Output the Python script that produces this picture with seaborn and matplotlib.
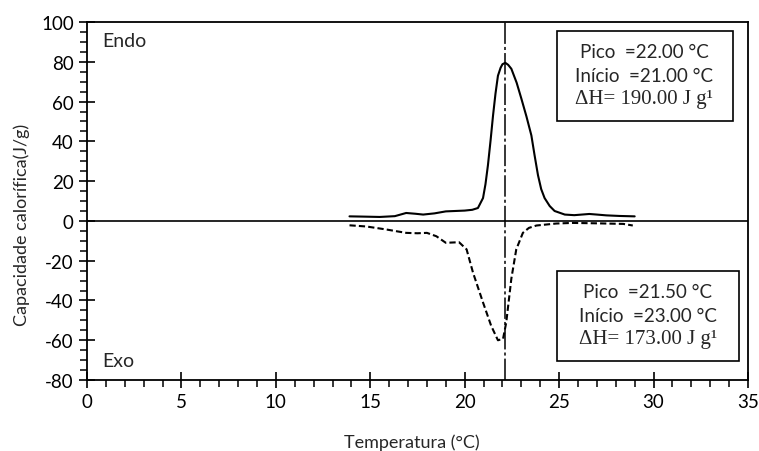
import matplotlib
matplotlib.use("Agg")
import matplotlib.pyplot as plt
from matplotlib.patches import Rectangle
from matplotlib.ticker import MultipleLocator
import pandas as pd
import seaborn as sns

# heating curve (endothermic, solid line)
endo_temp = [13.9, 14.5, 15.5, 16.3, 16.9, 17.4, 17.8, 18.4, 19.0, 19.5, 20.0, 20.4, 20.7,
             20.97, 21.1, 21.23, 21.37, 21.5, 21.63, 21.76, 21.9, 22.0, 22.15, 22.3, 22.47,
             22.75, 23.0, 23.27, 23.53, 23.7, 23.88, 24.05, 24.23, 24.5, 24.76, 25.3,
             25.8, 26.6, 27.0, 27.5, 28.2, 29.0]
endo_cp = [2.3, 2.2, 2.0, 2.4, 4.0, 3.6, 3.2, 3.8, 4.8, 5.0, 5.2, 5.6, 6.5,
           11.5, 18.5, 28.0, 40.5, 53.0, 64.0, 73.0, 77.0, 78.8, 79.5, 78.5, 76.5,
           69.5, 61.5, 52.5, 43.0, 33.0, 23.0, 16.0, 11.5, 7.5, 5.0, 3.2,
           2.9, 3.5, 3.2, 2.8, 2.5, 2.3]

# cooling curve (exothermic, dashed line)
exo_temp = [13.9, 14.8, 15.85, 16.4, 16.9, 17.5, 18.0, 18.5, 19.0, 19.7, 20.1, 20.44,
            20.97, 21.4, 21.76, 22.03, 22.2, 22.47, 22.73, 23.08, 23.4, 23.8, 24.85,
            25.7, 27.0, 28.4, 28.9]
exo_cp = [-2.2, -2.8, -4.3, -5.2, -6.0, -6.2, -6.0, -7.7, -11.0, -10.7, -14.3, -26.0,
          -41.0, -52.7, -60.0, -59.3, -51.0, -29.0, -14.3, -6.0, -3.5, -2.3, -1.3,
          -1.0, -1.2, -1.5, -2.3]

peak_line_x = 22.15

endo_text = ["Pico  =22.00 °C", "Início  =21.00 °C", "ΔH= 190.00 J g¹"]
exo_text = ["Pico  =21.50 °C", "Início  =23.00 °C", "ΔH= 173.00 J g¹"]

df_endo = pd.DataFrame({"T": endo_temp, "Cp": endo_cp})
df_exo = pd.DataFrame({"T": exo_temp, "Cp": exo_cp})

sns.set_theme(style="ticks")
plt.rcParams["font.family"] = ["Lato", "DejaVu Sans"]
plt.rcParams["axes.unicode_minus"] = False

fig = plt.figure(figsize=(7.59, 4.52), dpi=100)
ax = fig.add_axes([0.1146, 0.157, 0.8709, 0.792])

sns.lineplot(data=df_endo, x="T", y="Cp", ax=ax, color="black", lw=1.5, sort=False)
sns.lineplot(data=df_exo, x="T", y="Cp", ax=ax, color="black", lw=1.5, sort=False,
             linestyle=(0, (3, 1.5)))

ax.axhline(0, color="black", lw=1.2)
ax.axvline(peak_line_x, color="black", lw=1.1, linestyle=(0, (14, 2, 2, 2)))

ax.set_xlim(0, 35)
ax.set_ylim(-80, 100)
ax.xaxis.set_major_locator(MultipleLocator(5))
ax.xaxis.set_minor_locator(MultipleLocator(1))
ax.yaxis.set_major_locator(MultipleLocator(20))
ax.yaxis.set_minor_locator(MultipleLocator(5))
ax.tick_params(which="major", direction="inout", length=11, width=1.2, labelsize=13.5,
               colors="black", pad=4)
ax.tick_params(which="minor", direction="out", length=5, width=1.1, colors="black")
for s in ax.spines.values():
    s.set_linewidth(1.3)
    s.set_color("black")

ax.set_xlabel("Temperatura (°C)", fontsize=13)
ax.set_ylabel("Capacidade calorífica(J/g)", fontsize=13)
ax.xaxis.set_label_coords(0.492, -0.148)
ax.yaxis.set_label_coords(-0.086, 0.436)

ax.text(0.8, 90.5, "Endo", fontsize=14, ha="left", va="center")
ax.text(0.8, -70, "Exo", fontsize=14, ha="left", va="center")


def info_box(x0, x1, y0, y1, lines, ys, xc):
    ax.add_patch(Rectangle((x0, y0), x1 - x0, y1 - y0, fill=False, ec="black", lw=1.2))
    ax.text(xc, ys[0], lines[0], fontsize=13.5, ha="center", va="center")
    ax.text(xc, ys[1], lines[1], fontsize=13.5, ha="center", va="center")
    ax.text(xc, ys[2], lines[2], fontsize=15, ha="center", va="center",
            family=["Liberation Serif", "DejaVu Serif"])


info_box(24.9, 34.2, 50, 95.5, endo_text, [85, 73, 61.5], 29.5)
info_box(24.9, 34.5, -70.5, -25, exo_text, [-35.7, -47.3, -59], 29.7)

fig.savefig("out.png", dpi=100)
